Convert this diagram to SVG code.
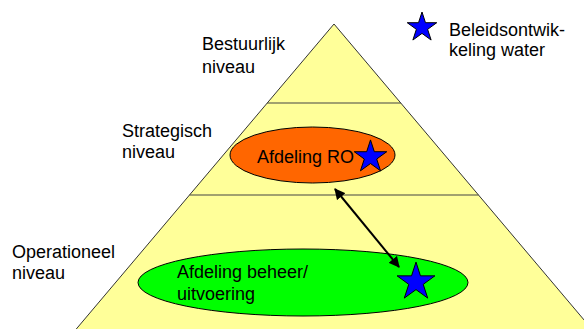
<svg xmlns="http://www.w3.org/2000/svg" width="584" height="329" viewBox="0 0 584 329">
<style>
text{font-family:"Liberation Sans",Arial,sans-serif;font-size:18px;fill:#000}
.star{fill:#0000FF;stroke:#000;stroke-width:1}
.ell{stroke:#000;stroke-width:1}
.div{stroke:#444;stroke-width:1.2;fill:none}
</style>
<defs>
<polygon id="starShape" vector-effect="non-scaling-stroke" points="0,-10 2.245,-3.09 9.511,-3.09 3.633,1.18 5.878,8.09 0,3.82 -5.878,8.09 -3.633,1.18 -9.511,-3.09 -2.245,-3.09"/>
<marker id="ah" viewBox="0 0 10 10" refX="9" refY="5" markerWidth="5.5" markerHeight="5.5" orient="auto-start-reverse" markerUnits="strokeWidth">
<path d="M0,0 L10,5 L0,10 z" fill="#000"/>
</marker>
</defs>
<rect width="584" height="329" fill="#fff"/>
<g id="pyramid">
<polygon points="334,24 601,340 67,340" fill="#FFFF99" stroke="#333" stroke-width="1"/>
<line class="div" x1="267" y1="103" x2="401" y2="103"/>
<line class="div" x1="189.5" y1="195" x2="478.5" y2="195"/>
</g>
<g id="label-bestuurlijk"><text x="202" y="50">Bestuurlijk</text><text x="202" y="73">niveau</text></g>
<g id="label-strategisch"><text x="122" y="137">Strategisch</text><text x="122" y="158">niveau</text></g>
<g id="label-operationeel"><text x="12" y="258">Operationeel</text><text x="12" y="279">niveau</text></g>
<g id="afdeling-ro">
<ellipse class="ell" cx="312.5" cy="155" rx="82.5" ry="28" fill="#FF6600"/>
<text x="257" y="163">Afdeling RO</text>
</g>
<g id="afdeling-beheer">
<ellipse class="ell" cx="303" cy="282.5" rx="165" ry="33.5" fill="#00FF00"/>
<text x="177" y="278">Afdeling beheer/</text>
<text x="177" y="300">uitvoering</text>
</g>
<g id="stars">
<use href="#starShape" class="star" transform="translate(370.5,157) scale(1.71)"/>
<use href="#starShape" class="star" transform="translate(416,282) scale(1.99)"/>
</g>
<g id="legend">
<use href="#starShape" class="star" transform="translate(422,27.5) scale(1.55)"/>
<text x="449" y="36">Beleidsontwik-</text>
<text x="449" y="56">keling water</text>
</g>
<g id="connectors">
<line x1="335" y1="189" x2="399" y2="267" stroke="#000" stroke-width="2" marker-start="url(#ah)" marker-end="url(#ah)"/>
</g>
</svg>
